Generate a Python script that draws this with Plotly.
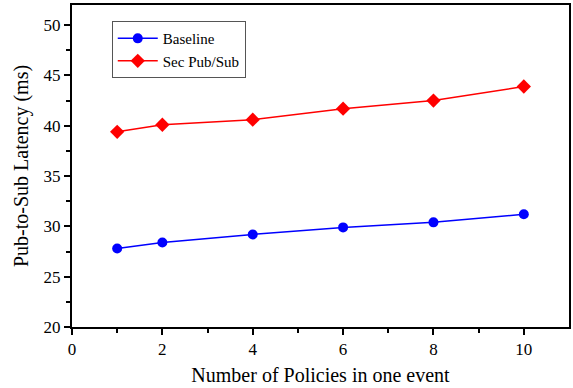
import plotly.graph_objects as go

x_vals = [1, 2, 4, 6, 8, 10]
baseline = [27.8, 28.4, 29.2, 29.9, 30.4, 31.2]
sec_pubsub = [39.4, 40.1, 40.6, 41.7, 42.5, 43.9]
x_ticks = [0, 2, 4, 6, 8, 10]
y_ticks = [20, 25, 30, 35, 40, 45, 50]

font = "Liberation Serif, Times New Roman, serif"

fig = go.Figure()
fig.add_trace(go.Scatter(x=x_vals, y=baseline, mode="lines+markers", name="Baseline",
                         line=dict(color="#0000ff", width=1.5),
                         marker=dict(symbol="circle", size=10, color="#0000ff")))
fig.add_trace(go.Scatter(x=x_vals, y=sec_pubsub, mode="lines+markers", name="Sec Pub/Sub",
                         line=dict(color="#ff0000", width=1.5),
                         marker=dict(symbol="diamond", size=11, color="#ff0000")))

axis_common = dict(showline=True, linecolor="black", linewidth=2, mirror=True,
                   ticks="outside", ticklen=6, tickwidth=1.5, tickcolor="black",
                   showgrid=False, zeroline=False,
                   tickfont=dict(family=font, size=17, color="black"),
                   minor=dict(ticks="outside", ticklen=4, tickwidth=1.5, tickcolor="black"))

fig.update_xaxes(range=[0, 11], tickvals=x_ticks, **axis_common,
                 title=dict(text="Number of Policies in one event", font=dict(family=font, size=20, color="black"), standoff=10))
fig.update_yaxes(range=[20, 52], tickvals=y_ticks, **axis_common,
                 title=dict(text="Pub-to-Sub Latency (ms)", font=dict(family=font, size=20, color="black"), standoff=10))
fig.update_xaxes(minor=dict(tickvals=[1, 3, 5, 7, 9]))
fig.update_yaxes(minor=dict(tickvals=[22.5, 27.5, 32.5, 37.5, 42.5, 47.5]))

fig.update_layout(
    width=573, height=388,
    margin=dict(l=72, r=2, t=5, b=61),
    plot_bgcolor="white", paper_bgcolor="white",
    showlegend=True,
    legend=dict(x=0.08, y=0.95, xanchor="left", yanchor="top",
                bordercolor="#555555", borderwidth=1, bgcolor="white",
                font=dict(family=font, size=15, color="black"),
                tracegroupgap=0, itemwidth=40),
)
fig.write_html("out.html")
